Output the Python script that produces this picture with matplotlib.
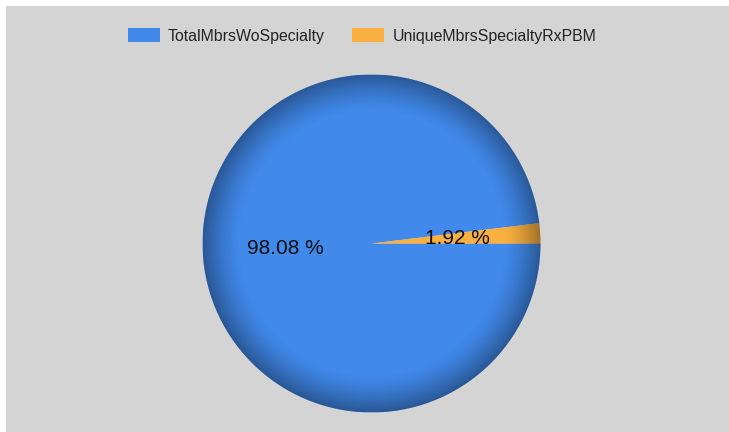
import numpy as np
import matplotlib
matplotlib.use("Agg")
import matplotlib.pyplot as plt
from matplotlib.patches import Rectangle, Circle, Patch

plt.rcParams["font.family"] = ["Liberation Sans", "DejaVu Sans"]

# data
labels = ["TotalMbrsWoSpecialty", "UniqueMbrsSpecialtyRxPBM"]
values = [98.08, 1.92]
colors = ["#4189ea", "#fab03f"]

W, H = 729, 432
fig = plt.figure(figsize=(W / 100, H / 100), dpi=100, facecolor="white")

# grey panel with thin white margin on the top and left
fig.patches.append(Rectangle((6 / W, 0), 1, 1 - 6 / H, transform=fig.transFigure,
                             facecolor="#d4d4d4", edgecolor="none", zorder=-5))

cx, cy, r = 371.5, 243.5, 169
ax = fig.add_axes([(cx - r) / W, (H - cy - r) / H, 2 * r / W, 2 * r / H])
ax.set_facecolor("none")

wedges, texts, autotexts = ax.pie(
    values, colors=colors, startangle=0, counterclock=False,
    autopct="%.2f %%", pctdistance=0.51, radius=1,
    wedgeprops=dict(linewidth=0), textprops=dict(fontsize=15, color="#111111"),
)
for t in autotexts:
    t.set_zorder(5)

# darkened rim like the original gradient
n = 400
yy, xx = np.mgrid[-1:1:n * 1j, -1:1:n * 1j]
rr = np.sqrt(xx ** 2 + yy ** 2)
alpha = np.clip((rr - 0.78) / 0.22, 0, 1) ** 1.4 * 0.36
shade = np.zeros((n, n, 4))
shade[..., 3] = alpha
im = ax.imshow(shade, extent=(-1, 1, -1, 1), origin="lower", zorder=3,
               interpolation="bilinear")
im.set_clip_path(Circle((0, 0), 1, transform=ax.transData))

ax.set_xlim(-1, 1)
ax.set_ylim(-1, 1)
ax.set_aspect("equal")
ax.axis("off")

handles = [Patch(facecolor=c, edgecolor="none") for c in colors]
fig.legend(handles, labels, loc="center", bbox_to_anchor=(362 / W, 1 - 36 / H),
           ncol=2, frameon=False, fontsize=11.4, handlelength=2.0,
           handleheight=1.0, handletextpad=0.52, columnspacing=1.75,
           labelcolor="#222222")

fig.savefig("out.png", dpi=100, facecolor=fig.get_facecolor())
